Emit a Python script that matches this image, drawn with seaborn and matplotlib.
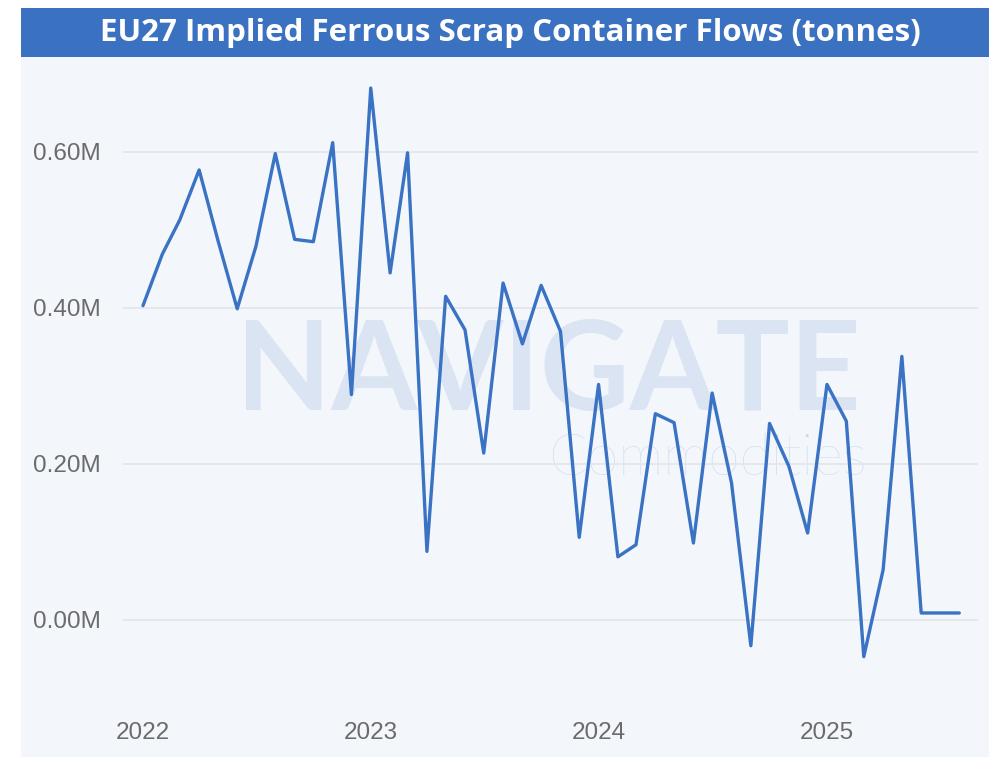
import numpy as np
import pandas as pd
import matplotlib
matplotlib.use("Agg")
import matplotlib.pyplot as plt
from matplotlib.patches import Rectangle
from matplotlib.ticker import FuncFormatter
import seaborn as sns

# Monthly implied container flows, million tonnes
flows_2022 = [0.403, 0.469, 0.513, 0.577, 0.487, 0.399, 0.479, 0.598, 0.488, 0.485, 0.612, 0.289]
flows_2023 = [0.682, 0.445, 0.599, 0.088, 0.415, 0.372, 0.214, 0.432, 0.354, 0.429, 0.370, 0.106]
flows_2024 = [0.302, 0.081, 0.0965, 0.2645, 0.253, 0.0987, 0.291, 0.176, -0.033, 0.252, 0.197, 0.1115]
flows_2025 = [0.302, 0.255, -0.047, 0.0645, 0.338, 0.009, 0.009, 0.009]

flows_mt = flows_2022 + flows_2023 + flows_2024 + flows_2025
months = pd.date_range("2022-01-01", periods=len(flows_mt), freq="MS")
tonnes = np.array(flows_mt) * 1e6

title = "EU27 Implied Ferrous Scrap Container Flows (tonnes)"
y_ticks = [0, 200000, 400000, 600000]
year_labels = ["2022", "2023", "2024", "2025"]

bar_blue = "#3a71c1"
line_blue = "#3a72c4"
panel_bg = "#f3f7fc"
mark_col = "#dae4f3"

sns.set_theme(style="white")
plt.rcParams["font.family"] = ["Liberation Sans", "DejaVu Sans"]

W, H = 989, 757
fig = plt.figure(figsize=(W / 100, H / 100), dpi=100, facecolor="white")


def fx(px):
    return px / W


def fy(py):
    return 1 - py / H


# Panel background and title band
fig.patches.append(Rectangle((fx(21), 0), 1 - fx(21), fy(57), transform=fig.transFigure,
                             facecolor=panel_bg, edgecolor="none", zorder=-3))
fig.patches.append(Rectangle((fx(21), fy(57)), 1 - fx(21), fy(8) - fy(57), transform=fig.transFigure,
                             facecolor=bar_blue, edgecolor="none", zorder=-3))
fig.text(fx(510), (fy(8) + fy(57)) / 2, title, ha="center", va="center",
         color="white", fontsize=22.5, fontweight="bold", family=["Open Sans", "DejaVu Sans"])

# Watermark
fig.text(fx(548), fy(374), "NAVIGATE", ha="center", va="center", color=mark_col,
         fontsize=89, fontweight="bold", family=["Lato", "DejaVu Sans"], zorder=-1)
fig.text(fx(867), fy(459), "Commodities", ha="right", va="center", color="#cbd9ee",
         fontsize=41, fontweight="light", family=["Lato", "DejaVu Sans"], zorder=-1)

ax = fig.add_axes([fx(123), fy(698), fx(978) - fx(123), fy(74) - fy(698)])
ax.set_facecolor("none")

sns.lineplot(x=months, y=tonnes, ax=ax, color=line_blue, linewidth=2.4)

ax.set_ylim(-100000, 700000)
ax.set_yticks(y_ticks)
ax.yaxis.set_major_formatter(FuncFormatter(lambda v, _: f"{v / 1e6:.2f}M"))
ax.set_xlim(pd.Timestamp("2021-11-30"), pd.Timestamp("2025-08-31"))
ax.set_xticks([pd.Timestamp(f"{y}-01-01") for y in year_labels])
ax.set_xticklabels(year_labels)

ax.grid(axis="y", color="#e4e6ea", linewidth=1.3)
ax.grid(axis="x", visible=False)
ax.set_axisbelow(True)
for s in ax.spines.values():
    s.set_visible(False)
ax.tick_params(axis="both", length=0, labelsize=17.5, colors="#6b6b6b")
ax.tick_params(axis="y", pad=16)
ax.tick_params(axis="x", pad=17)
ax.set_xlabel("")
ax.set_ylabel("")

fig.savefig("out.png", dpi=100, facecolor="white")
